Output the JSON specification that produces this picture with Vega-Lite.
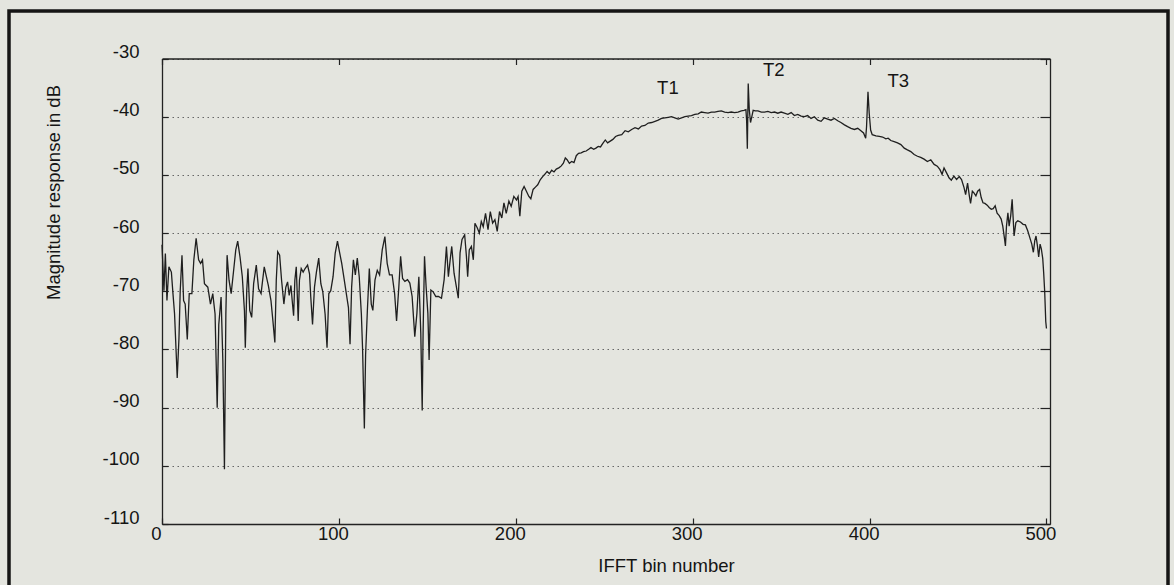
{
  "$schema": "https://vega.github.io/schema/vega-lite/v6.json",
  "width": 1159,
  "height": 580,
  "autosize": {"type": "none"},
  "padding": {"left": 9, "top": 11, "right": 6, "bottom": 0},
  "background": "#e4e5df",
  "config": {
    "view": {"stroke": "#151515", "strokeWidth": 3.5},
    "font": "Liberation Sans",
    "axis": {
      "labelFont": "Liberation Sans",
      "titleFont": "Liberation Sans",
      "labelFontSize": 18.5,
      "titleFontSize": 18.5,
      "titleFontWeight": "normal",
      "labelColor": "#151515",
      "titleColor": "#151515",
      "domainColor": "#222222",
      "domainWidth": 1.3,
      "tickColor": "#222222",
      "tickWidth": 1.2,
      "gridColor": "#666666",
      "gridDash": [1.5, 3.5],
      "gridWidth": 1,
      "labelFlush": false,
      "labelOverlap": false
    }
  },
  "datasets": {
    "curve": [
      {"bin":0,"db":-62.0},{"bin":1.1,"db":-69.9},{"bin":1.9,"db":-63.5},{"bin":2.8,"db":-71.6},{"bin":3.9,"db":-65.8},{"bin":5.3,"db":-66.7},{"bin":6.2,"db":-70.4},{"bin":7.1,"db":-73.9},{"bin":8.6,"db":-84.9},{"bin":9.6,"db":-78.0},{"bin":10.3,"db":-69.9},{"bin":11.3,"db":-63.8},{"bin":12.2,"db":-71.6},{"bin":13.1,"db":-72.2},{"bin":14.3,"db":-78.3},{"bin":15.4,"db":-70.4},{"bin":16.9,"db":-70.4},{"bin":18.0,"db":-64.6},{"bin":19.3,"db":-60.9},{"bin":20.7,"db":-64.6},{"bin":21.8,"db":-65.2},{"bin":22.9,"db":-64.6},{"bin":24.0,"db":-68.7},{"bin":25.9,"db":-69.3},{"bin":27.4,"db":-72.2},{"bin":28.7,"db":-70.4},{"bin":30.0,"db":-73.9},{"bin":31.2,"db":-90.0},{"bin":32.1,"db":-75.7},{"bin":33.4,"db":-71.0},{"bin":34.4,"db":-82.0},{"bin":35.3,"db":-100.6},{"bin":36.1,"db":-73.9},{"bin":36.8,"db":-63.8},{"bin":37.9,"db":-68.1},{"bin":39.1,"db":-70.4},{"bin":40.4,"db":-66.7},{"bin":41.7,"db":-62.9},{"bin":42.8,"db":-61.4},{"bin":44.1,"db":-64.1},{"bin":45.4,"db":-67.5},{"bin":46.6,"db":-73.3},{"bin":47.1,"db":-79.7},{"bin":47.9,"db":-69.9},{"bin":48.6,"db":-66.1},{"bin":49.6,"db":-73.3},{"bin":50.7,"db":-74.5},{"bin":51.8,"db":-68.7},{"bin":53.3,"db":-65.5},{"bin":54.6,"db":-69.6},{"bin":56.0,"db":-70.4},{"bin":56.9,"db":-68.1},{"bin":57.8,"db":-65.8},{"bin":59.0,"db":-67.5},{"bin":60.1,"db":-69.0},{"bin":61.6,"db":-71.6},{"bin":62.7,"db":-75.1},{"bin":63.8,"db":-78.8},{"bin":64.6,"db":-68.1},{"bin":65.4,"db":-63.2},{"bin":66.5,"db":-63.8},{"bin":67.6,"db":-68.1},{"bin":68.9,"db":-72.2},{"bin":70.0,"db":-69.3},{"bin":71.0,"db":-68.4},{"bin":71.9,"db":-70.7},{"bin":72.9,"db":-69.0},{"bin":73.6,"db":-71.6},{"bin":74.4,"db":-74.2},{"bin":75.1,"db":-68.1},{"bin":75.9,"db":-65.8},{"bin":77.0,"db":-75.1},{"bin":77.7,"db":-68.1},{"bin":78.7,"db":-66.1},{"bin":79.8,"db":-66.7},{"bin":80.9,"db":-66.1},{"bin":82.3,"db":-65.5},{"bin":83.4,"db":-67.0},{"bin":84.1,"db":-71.0},{"bin":85.1,"db":-75.7},{"bin":86.2,"db":-69.3},{"bin":87.3,"db":-66.7},{"bin":88.6,"db":-64.3},{"bin":89.8,"db":-68.7},{"bin":90.9,"db":-70.1},{"bin":92.2,"db":-73.9},{"bin":93.3,"db":-79.7},{"bin":94.3,"db":-70.4},{"bin":95.4,"db":-69.9},{"bin":96.7,"db":-67.5},{"bin":97.9,"db":-63.5},{"bin":99.2,"db":-61.4},{"bin":100.5,"db":-63.5},{"bin":101.6,"db":-65.2},{"bin":102.9,"db":-67.8},{"bin":104.2,"db":-70.4},{"bin":105.4,"db":-72.8},{"bin":106.3,"db":-79.1},{"bin":107.2,"db":-69.3},{"bin":108.2,"db":-64.6},{"bin":109.3,"db":-67.2},{"bin":110.4,"db":-64.3},{"bin":111.5,"db":-67.5},{"bin":112.7,"db":-73.9},{"bin":113.4,"db":-80.0},{"bin":114.4,"db":-93.6},{"bin":115.1,"db":-80.9},{"bin":116.1,"db":-73.3},{"bin":117.2,"db":-66.1},{"bin":118.3,"db":-72.2},{"bin":119.2,"db":-73.3},{"bin":120.4,"db":-68.1},{"bin":121.7,"db":-66.4},{"bin":123.0,"db":-67.2},{"bin":124.5,"db":-62.9},{"bin":126.0,"db":-60.6},{"bin":127.3,"db":-65.2},{"bin":128.6,"db":-67.2},{"bin":130.1,"db":-67.2},{"bin":131.5,"db":-70.4},{"bin":132.6,"db":-75.1},
      {"bin":133.9,"db":-69.2},{"bin":134.9,"db":-64.0},{"bin":136.0,"db":-67.8},{"bin":137.3,"db":-68.3},{"bin":138.8,"db":-68.0},{"bin":140.1,"db":-68.6},{"bin":141.4,"db":-70.9},{"bin":142.9,"db":-77.8},{"bin":144.1,"db":-73.8},{"bin":145.2,"db":-67.5},{"bin":146.3,"db":-77.2},{"bin":147.1,"db":-90.5},{"bin":147.6,"db":-77.2},{"bin":148.4,"db":-64.0},{"bin":149.3,"db":-69.2},{"bin":150.3,"db":-73.8},{"bin":151.0,"db":-81.8},{"bin":152.0,"db":-69.8},{"bin":153.3,"db":-70.1},{"bin":154.8,"db":-70.9},{"bin":156.3,"db":-70.9},{"bin":158.0,"db":-71.2},{"bin":159.5,"db":-68.0},{"bin":160.8,"db":-62.3},{"bin":161.9,"db":-67.5},{"bin":162.9,"db":-64.6},{"bin":163.8,"db":-62.3},{"bin":165.1,"db":-66.9},{"bin":166.4,"db":-69.2},{"bin":167.5,"db":-71.2},{"bin":168.5,"db":-63.4},{"bin":169.6,"db":-61.1},{"bin":171.1,"db":-60.3},{"bin":172.1,"db":-64.0},{"bin":172.8,"db":-67.5},{"bin":173.7,"db":-62.9},{"bin":174.9,"db":-62.3},{"bin":176.0,"db":-64.6},{"bin":176.9,"db":-58.3},{"bin":178.2,"db":-59.1},{"bin":179.4,"db":-60.0},{"bin":180.5,"db":-58.0},{"bin":181.6,"db":-58.9},{"bin":182.9,"db":-56.6},{"bin":184.3,"db":-59.4},{"bin":185.6,"db":-56.3},{"bin":186.9,"db":-58.3},{"bin":188.2,"db":-57.7},{"bin":189.5,"db":-59.7},{"bin":190.8,"db":-56.3},{"bin":192.1,"db":-57.4},{"bin":193.3,"db":-54.8},{"bin":194.6,"db":-56.6},{"bin":196.1,"db":-54.5},{"bin":197.4,"db":-55.4},{"bin":198.9,"db":-53.7},{"bin":200.4,"db":-54.3},{"bin":201.3,"db":-53.7},{"bin":202.3,"db":-57.1},{"bin":203.4,"db":-52.8},{"bin":204.7,"db":-52.0},{"bin":206.0,"db":-52.8},{"bin":207.4,"db":-53.7},{"bin":208.5,"db":-54.1},{"bin":209.8,"db":-52.5},{"bin":211.1,"db":-52.1},{"bin":212.4,"db":-51.7},{"bin":213.9,"db":-50.8},{"bin":215.2,"db":-50.3},{"bin":216.4,"db":-49.9},{"bin":217.7,"db":-49.4},{"bin":219.0,"db":-49.8},{"bin":220.3,"db":-49.2},{"bin":221.6,"db":-49.5},{"bin":222.9,"db":-49.0},{"bin":224.3,"db":-48.8},{"bin":225.6,"db":-48.5},{"bin":226.9,"db":-48.0},{"bin":228.0,"db":-47.1},{"bin":229.0,"db":-47.4},{"bin":230.3,"db":-48.0},{"bin":231.6,"db":-47.7},{"bin":232.9,"db":-47.9},{"bin":234.2,"db":-46.7},{"bin":235.5,"db":-46.3},{"bin":237.0,"db":-46.2},{"bin":238.3,"db":-46.0},{"bin":239.8,"db":-45.9},{"bin":241.2,"db":-45.6},{"bin":242.5,"db":-45.3},{"bin":244.0,"db":-45.6},{"bin":245.3,"db":-45.4},{"bin":246.6,"db":-45.1},{"bin":247.9,"db":-45.2},{"bin":249.2,"db":-44.6},{"bin":250.6,"db":-44.0},{"bin":251.9,"db":-44.5},{"bin":253.4,"db":-44.2},{"bin":254.9,"db":-43.9},{"bin":256.4,"db":-43.4},{"bin":257.9,"db":-43.2},
      {"bin":259.9,"db":-43.1},{"bin":261.8,"db":-42.4},{"bin":263.6,"db":-42.6},{"bin":265.5,"db":-42.2},{"bin":267.4,"db":-41.9},{"bin":269.3,"db":-42.1},{"bin":271.1,"db":-41.6},{"bin":273.0,"db":-41.5},{"bin":274.9,"db":-41.1},{"bin":276.8,"db":-41.0},{"bin":278.7,"db":-40.8},{"bin":280.5,"db":-40.6},{"bin":282.4,"db":-40.3},{"bin":284.3,"db":-40.2},{"bin":286.2,"db":-40.1},{"bin":288.0,"db":-40.0},{"bin":289.9,"db":-40.2},{"bin":291.8,"db":-40.4},{"bin":293.7,"db":-40.2},{"bin":295.6,"db":-40.0},{"bin":297.4,"db":-39.9},{"bin":299.3,"db":-39.8},{"bin":301.2,"db":-39.6},{"bin":303.1,"db":-39.5},{"bin":304.9,"db":-39.2},{"bin":306.8,"db":-39.3},{"bin":308.7,"db":-39.4},{"bin":310.6,"db":-39.2},{"bin":312.5,"db":-39.2},{"bin":314.3,"db":-39.1},{"bin":316.2,"db":-39.0},{"bin":318.1,"db":-39.2},{"bin":320.0,"db":-39.3},{"bin":321.8,"db":-39.2},{"bin":323.7,"db":-39.3},{"bin":325.6,"db":-39.2},{"bin":327.5,"db":-39.0},{"bin":329.0,"db":-38.9},{"bin":330.1,"db":-38.8},{"bin":330.5,"db":-40.7},{"bin":330.9,"db":-45.5},{"bin":331.4,"db":-34.3},{"bin":332.0,"db":-38.8},{"bin":332.7,"db":-41.0},{"bin":333.5,"db":-39.9},{"bin":334.2,"db":-38.9},{"bin":335.4,"db":-39.0},{"bin":336.9,"db":-39.0},{"bin":338.8,"db":-39.2},{"bin":340.6,"db":-39.2},{"bin":342.5,"db":-39.1},{"bin":344.4,"db":-39.3},{"bin":346.3,"db":-39.2},{"bin":348.1,"db":-39.4},{"bin":350.0,"db":-39.2},{"bin":351.9,"db":-39.4},{"bin":353.8,"db":-39.6},{"bin":355.7,"db":-39.3},{"bin":357.5,"db":-39.8},{"bin":359.4,"db":-39.6},{"bin":361.3,"db":-39.9},{"bin":363.2,"db":-40.0},{"bin":365.0,"db":-39.8},{"bin":366.9,"db":-40.3},{"bin":368.8,"db":-40.0},{"bin":370.7,"db":-40.6},{"bin":372.6,"db":-40.8},{"bin":374.4,"db":-40.2},{"bin":376.3,"db":-40.4},{"bin":378.2,"db":-40.6},{"bin":380.1,"db":-40.3},{"bin":382.0,"db":-40.7},{"bin":383.8,"db":-41.0},
      {"bin":385.8,"db":-41.4},{"bin":387.6,"db":-41.7},{"bin":389.5,"db":-42.0},{"bin":391.4,"db":-42.2},{"bin":393.3,"db":-42.0},{"bin":395.1,"db":-42.4},{"bin":396.6,"db":-42.8},{"bin":397.8,"db":-43.7},{"bin":398.3,"db":-41.7},{"bin":399.1,"db":-35.7},{"bin":399.8,"db":-39.4},{"bin":400.6,"db":-42.3},{"bin":401.5,"db":-43.1},{"bin":403.6,"db":-43.3},{"bin":405.5,"db":-43.4},{"bin":407.4,"db":-43.5},{"bin":409.2,"db":-43.8},{"bin":410.5,"db":-43.7},{"bin":412.0,"db":-44.1},{"bin":413.9,"db":-44.3},{"bin":415.8,"db":-44.5},{"bin":417.7,"db":-44.8},{"bin":419.6,"db":-45.4},{"bin":421.4,"db":-45.7},{"bin":423.3,"db":-46.0},{"bin":425.2,"db":-46.5},{"bin":427.1,"db":-46.8},{"bin":428.9,"db":-47.0},{"bin":430.8,"db":-47.3},{"bin":432.7,"db":-47.7},{"bin":434.6,"db":-47.4},{"bin":436.5,"db":-48.2},{"bin":438.3,"db":-48.5},{"bin":439.8,"db":-49.1},{"bin":441.0,"db":-49.9},{"bin":442.1,"db":-48.8},{"bin":443.6,"db":-49.7},{"bin":444.9,"db":-50.5},{"bin":446.2,"db":-50.9},{"bin":447.7,"db":-50.2},{"bin":449.2,"db":-50.8},{"bin":450.7,"db":-50.3},{"bin":452.0,"db":-50.8},{"bin":453.4,"db":-52.2},{"bin":454.3,"db":-53.4},{"bin":455.4,"db":-51.4},{"bin":456.4,"db":-53.6},{"bin":457.1,"db":-54.9},{"bin":458.1,"db":-52.8},{"bin":459.0,"db":-53.1},{"bin":460.1,"db":-53.6},{"bin":461.1,"db":-52.8},{"bin":462.2,"db":-52.5},{"bin":463.1,"db":-53.9},{"bin":464.1,"db":-54.8},{"bin":465.2,"db":-54.9},{"bin":466.5,"db":-55.2},{"bin":467.6,"db":-55.6},{"bin":468.8,"db":-55.9},{"bin":469.9,"db":-55.8},{"bin":471.0,"db":-55.3},{"bin":472.1,"db":-56.6},{"bin":473.3,"db":-57.0},{"bin":474.4,"db":-57.6},{"bin":475.3,"db":-58.8},{"bin":476.3,"db":-61.0},{"bin":476.8,"db":-62.2},{"bin":477.4,"db":-58.8},{"bin":478.2,"db":-56.5},{"bin":478.9,"db":-58.8},{"bin":479.8,"db":-57.0},{"bin":480.6,"db":-54.2},{"bin":481.2,"db":-57.6},{"bin":481.7,"db":-60.5},{"bin":482.7,"db":-58.2},{"bin":483.8,"db":-57.9},{"bin":485.3,"db":-58.1},{"bin":486.8,"db":-58.5},{"bin":488.1,"db":-58.6},{"bin":489.4,"db":-59.6},{"bin":490.5,"db":-60.7},{"bin":491.7,"db":-61.9},{"bin":492.6,"db":-63.3},{"bin":493.4,"db":-61.3},{"bin":494.1,"db":-60.5},{"bin":494.9,"db":-62.2},{"bin":495.6,"db":-64.1},{"bin":496.4,"db":-61.9},{"bin":497.1,"db":-62.7},{"bin":497.9,"db":-64.4},{"bin":498.4,"db":-66.7},{"bin":499.0,"db":-70.1},{"bin":499.6,"db":-75.2},{"bin":500.0,"db":-76.4}
    ],
    "labels": [
      {"bin":286,"db":-35.1,"label":"T1"},
      {"bin":345.9,"db":-31.9,"label":"T2"},
      {"bin":416.2,"db":-33.9,"label":"T3"}
    ]
  },
  "layer": [
    {
      "data": {"name": "curve"},
      "mark": {"type": "line", "stroke": "#1f1f1f", "strokeWidth": 1.3, "interpolate": "linear"},
      "encoding": {
        "x": {
          "field": "bin", "type": "quantitative",
          "scale": {"domain": [0, 502], "range": [153, 1041], "nice": false, "zero": false},
          "axis": {
            "orient": "bottom", "offset": -67,
            "values": [0, 100, 200, 300, 400, 500],
            "tickSize": -6, "labelPadding": 15.5, "labelOffset": -6, "labelBaseline": "middle",
            "grid": false,
            "title": "IFFT bin number", "titleX": 657, "titleY": 41, "titleBaseline": "middle", "titleAlign": "center"
          }
        },
        "y": {
          "field": "db", "type": "quantitative",
          "scale": {"domain": [-110, -30], "range": [513, 47.5], "nice": false, "zero": false},
          "axis": {
            "orient": "left", "offset": -153,
            "values": [-110, -100, -90, -80, -70, -60, -50, -40, -30],
            "labelExpr": "toString(datum.value)",
            "tickSize": -6, "labelPadding": 29, "labelOffset": -7, "labelAlign": "right", "labelBaseline": "middle",
            "grid": true,
            "title": "Magnitude response in dB", "titleX": -109, "titleY": 181, "titleAngle": -90, "titleBaseline": "middle", "titleAlign": "center"
          }
        }
      }
    },
    {
      "data": {"name": "labels"},
      "mark": {"type": "text", "font": "Liberation Sans", "fontSize": 18.5, "color": "#151515", "align": "center", "baseline": "middle"},
      "encoding": {
        "x": {
          "field": "bin", "type": "quantitative",
          "scale": {"domain": [0, 502], "range": [153, 1041], "nice": false, "zero": false},
          "axis": {"orient": "top", "offset": -47.5, "values": [0, 100, 200, 300, 400, 500], "tickSize": -6, "labels": false, "grid": false, "title": null}
        },
        "y": {
          "field": "db", "type": "quantitative",
          "scale": {"domain": [-110, -30], "range": [513, 47.5], "nice": false, "zero": false},
          "axis": {"orient": "right", "offset": -118, "values": [-110, -100, -90, -80, -70, -60, -50, -40, -30], "tickSize": -10, "labels": false, "grid": false, "title": null}
        },
        "text": {"field": "label"}
      }
    }
  ],
  "resolve": {"axis": {"x": "independent", "y": "independent"}}
}
